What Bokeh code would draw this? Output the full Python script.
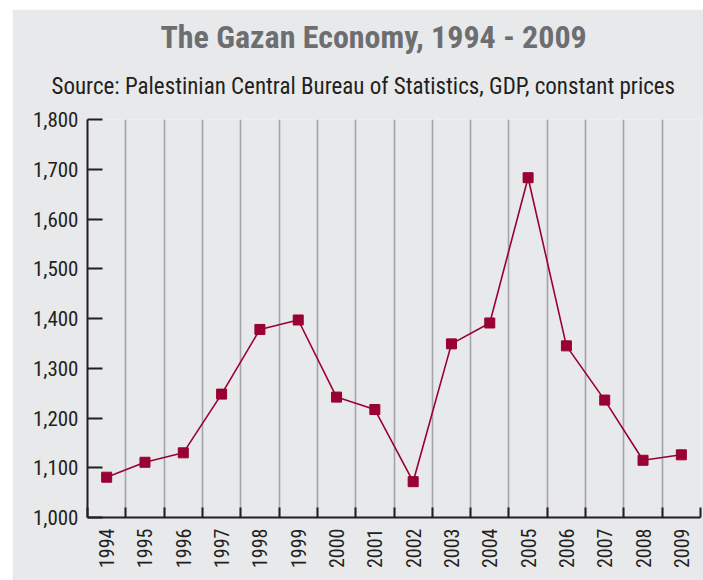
from math import pi
from bokeh.plotting import figure
from bokeh.models import LinearAxis, FixedTicker, Grid, Title, NumeralTickFormatter
from bokeh.embed import file_html
from bokeh.resources import INLINE

# ---- data ----
years = [1994, 1995, 1996, 1997, 1998, 1999, 2000, 2001,
         2002, 2003, 2004, 2005, 2006, 2007, 2008, 2009]
gdp = [1081, 1111, 1130, 1248, 1378, 1397, 1242, 1217,
       1072, 1349, 1391, 1683, 1345, 1236, 1115, 1126]
y_ticks = [1000, 1100, 1200, 1300, 1400, 1500, 1600, 1700, 1800]
year_labels = [str(y) for y in years]
title_text = "The Gazan Economy, 1994 - 2009"
subtitle_text = "Source: Palestinian Central Bureau of Statistics, GDP, constant prices"

# ---- style ----
BG = "#e8e9eb"
DARK = "#231f20"
RED = "#990033"
GRID = "#a4a5a8"
FONT = "'Liberation Sans Narrow', 'Roboto Condensed', 'DejaVu Sans Condensed', sans-serif"

p = figure(width=691, height=571,
           x_range=(years[0] - 0.5, years[-1] + 0.5),
           y_range=(y_ticks[0], y_ticks[-1]),
           x_axis_type=None, y_axis_type=None, title=None,
           output_backend="svg", toolbar_location=None,
           min_border_left=75, min_border_right=3,
           min_border_top=110, min_border_bottom=63)
p.styles = {"margin-left": "12px", "margin-top": "9px"}
p.background_fill_color = BG
p.border_fill_color = BG
p.outline_line_color = None

# category boundaries (between the years)
boundaries = [y - 0.5 for y in years] + [years[-1] + 0.5]

p.add_layout(Grid(dimension=0, ticker=FixedTicker(ticks=boundaries[1:]),
                  grid_line_color=GRID, grid_line_width=1.6))

x_axis = LinearAxis(ticker=FixedTicker(ticks=years, minor_ticks=boundaries),
                    major_label_overrides={y: s for y, s in zip(years, year_labels)},
                    major_tick_in=0, major_tick_out=0,
                    minor_tick_in=10, minor_tick_out=0,
                    minor_tick_line_width=2, minor_tick_line_color=DARK,
                    axis_line_width=2, axis_line_color=DARK,
                    major_label_orientation=pi / 2,
                    major_label_text_font=FONT,
                    major_label_text_font_size="20px",
                    major_label_text_color=DARK,
                    major_label_standoff=11)
p.add_layout(x_axis, "below")

y_axis = LinearAxis(ticker=FixedTicker(ticks=y_ticks),
                    formatter=NumeralTickFormatter(format="0,0"),
                    major_tick_in=15, major_tick_out=0,
                    major_tick_line_width=2, major_tick_line_color=DARK,
                    minor_tick_line_color=None,
                    axis_line_width=2, axis_line_color=DARK,
                    major_label_text_font=FONT,
                    major_label_text_font_size="21px",
                    major_label_text_color=DARK,
                    major_label_standoff=9)
p.add_layout(y_axis, "left")

p.line(years, gdp, line_color=RED, line_width=1.6)
p.scatter(years, gdp, marker="square", size=10, fill_color=RED, line_color=RED)

p.add_layout(Title(text=subtitle_text, align="left", offset=-36,
                   text_font=FONT, text_font_size="23px", text_font_style="normal",
                   text_color=DARK, standoff=40), "above")
p.add_layout(Title(text=title_text, align="left", offset=73,
                   text_font=FONT, text_font_size="32px", text_font_style="bold",
                   text_color="#6d6e71", standoff=-10), "above")

open("out.html", "w").write(file_html(p, INLINE))
